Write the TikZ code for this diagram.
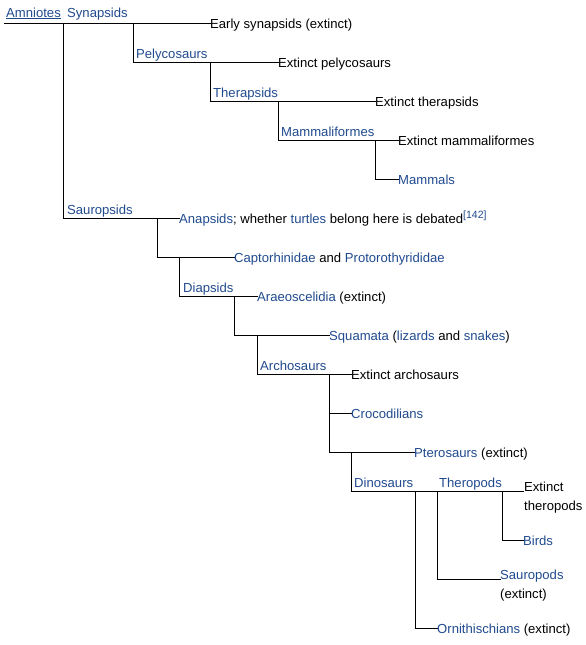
\documentclass[tikz,border=0pt]{standalone}
\usepackage{fontspec}
\setmainfont{Liberation Sans}
\definecolor{linkblue}{HTML}{204A8E}
\tikzset{
  tree/.style={line width=1pt, black, line cap=rect},
  lbl/.style={anchor=base west, inner sep=0pt, text=linkblue},
  leaf/.style={anchor=base west, inner sep=0pt, text=black},
}
\newcommand{\lk}[1]{\textcolor{linkblue}{#1}}
\begin{document}
\begin{tikzpicture}[x=1pt,y=-1pt,font=\fontsize{13.1}{18.5}\selectfont]
\useasboundingbox (0,0) rectangle (586,645);
% junction and end coordinates
\coordinate (root) at (4,23.5);
\coordinate (jA) at (63.5,23.5);
\coordinate (jB) at (133.5,23.5);
\coordinate (eEarly) at (210,23.5);
\coordinate (jSau) at (63.5,218.5);
\coordinate (eAna) at (179,218.5);
\coordinate (jPel) at (133.5,62.5);
\coordinate (jPelR) at (210.5,62.5);
\coordinate (ePel) at (278,62.5);
\coordinate (jThe) at (210.5,101.5);
\coordinate (jTheR) at (278.5,101.5);
\coordinate (eThe) at (375,101.5);
\coordinate (jMam) at (278.5,140.5);
\coordinate (jMamR) at (375.5,140.5);
\coordinate (eMamf) at (398,140.5);
\coordinate (jMammals) at (375.5,179.5);
\coordinate (eMammals) at (398,179.5);
\coordinate (jSauR) at (157.5,218.5);
\coordinate (jCap) at (157.5,257.5);
\coordinate (jCapR) at (179.5,257.5);
\coordinate (eCap) at (234,257.5);
\coordinate (jDia) at (179.5,296.5);
\coordinate (jDiaR) at (234.5,296.5);
\coordinate (eAra) at (257,296.5);
\coordinate (jSqu) at (234.5,335.5);
\coordinate (jSquR) at (257.5,335.5);
\coordinate (eSqu) at (329,335.5);
\coordinate (jArc) at (257.5,374.5);
\coordinate (jArcR) at (329.5,374.5);
\coordinate (eArc) at (351,374.5);
\coordinate (jCro) at (329.5,413.5);
\coordinate (eCro) at (351,413.5);
\coordinate (jPte) at (329.5,452.5);
\coordinate (jPteR) at (351.5,452.5);
\coordinate (ePte) at (414,452.5);
\coordinate (jDin) at (351.5,491.5);
\coordinate (jOrn) at (415.5,491.5);
\coordinate (jTpd) at (437.5,491.5);
\coordinate (jBrd) at (502.5,491.5);
\coordinate (eETh) at (523,491.5);
\coordinate (jBirds) at (502.5,540.5);
\coordinate (eBirds) at (523,540.5);
\coordinate (jSpd) at (437.5,579.5);
\coordinate (eSpd) at (500,579.5);
\coordinate (jOrnB) at (415.5,628.5);
\coordinate (eOrn) at (437,628.5);
% connectors
\draw[tree] (root) -- (eEarly);
\draw[tree] (jA) -- (jSau) -- (eAna);
\draw[tree] (jB) -- (jPel) -- (ePel);
\draw[tree] (jPelR) -- (jThe) -- (eThe);
\draw[tree] (jTheR) -- (jMam) -- (eMamf);
\draw[tree] (jMamR) -- (jMammals) -- (eMammals);
\draw[tree] (jSauR) -- (jCap) -- (eCap);
\draw[tree] (jCapR) -- (jDia) -- (eAra);
\draw[tree] (jDiaR) -- (jSqu) -- (eSqu);
\draw[tree] (jSquR) -- (jArc) -- (eArc);
\draw[tree] (jArcR) -- (jPte) -- (ePte);
\draw[tree] (jCro) -- (eCro);
\draw[tree] (jPteR) -- (jDin) -- (eETh);
\draw[tree] (jBrd) -- (jBirds) -- (eBirds);
\draw[tree] (jTpd) -- (jSpd) -- (eSpd);
\draw[tree] (jOrn) -- (jOrnB) -- (eOrn);
% clade labels
\node[lbl] (amn) at (6,17) {Amniotes};
\draw[linkblue, line width=1pt] ([yshift=-1.5pt]amn.base west) -- ([yshift=-1.5pt]amn.base east);
\node[lbl] (syn) at (67,17) {Synapsids};
\node[lbl] (pel) at (136,58) {Pelycosaurs};
\node[lbl] (the) at (213,97) {Therapsids};
\node[lbl] (mamf) at (281,136) {Mammaliformes};
\node[lbl] (sau) at (67,214) {Sauropsids};
\node[lbl] (dia) at (183,292) {Diapsids};
\node[lbl] (arc) at (260,370) {Archosaurs};
\node[lbl] (din) at (354,487) {Dinosaurs};
\node[lbl] (tpd) at (439,487) {Theropods};
% leaves
\node[leaf] (early) at (210,28) {Early synapsids (extinct)};
\node[leaf] (xpel) at (278,67) {Extinct pelycosaurs};
\node[leaf] (xthe) at (375,106) {Extinct therapsids};
\node[leaf] (xmamf) at (398,145) {Extinct mammaliformes};
\node[leaf] (mammals) at (398,184) {\lk{Mammals}};
\node[leaf] (ana) at (179,223) {\lk{Anapsids}; whether \lk{turtles} belong here is debated\raisebox{5pt}{\fontsize{10.5}{10.5}\selectfont\lk{[142]}}};
\node[leaf] (cap) at (234,262) {\lk{Captorhinidae} and \lk{Protorothyrididae}};
\node[leaf] (ara) at (257,301) {\lk{Araeoscelidia} (extinct)};
\node[leaf] (squ) at (329,340) {\lk{Squamata} (\lk{lizards} and \lk{snakes})};
\node[leaf] (xarc) at (351,379) {Extinct archosaurs};
\node[leaf] (cro) at (351,418) {\lk{Crocodilians}};
\node[leaf] (pte) at (414,457) {\lk{Pterosaurs} (extinct)};
\node[leaf] (xtpd) at (524,491.5) {\begin{tabular}[t]{@{}l@{}}Extinct\\theropods\end{tabular}};
\node[leaf] (birds) at (523,545) {\lk{Birds}};
\node[leaf] (spd) at (500,579.5) {\begin{tabular}[t]{@{}l@{}}\lk{Sauropods}\\(extinct)\end{tabular}};
\node[leaf] (orn) at (437,633) {\lk{Ornithischians} (extinct)};
\end{tikzpicture}
\end{document}
